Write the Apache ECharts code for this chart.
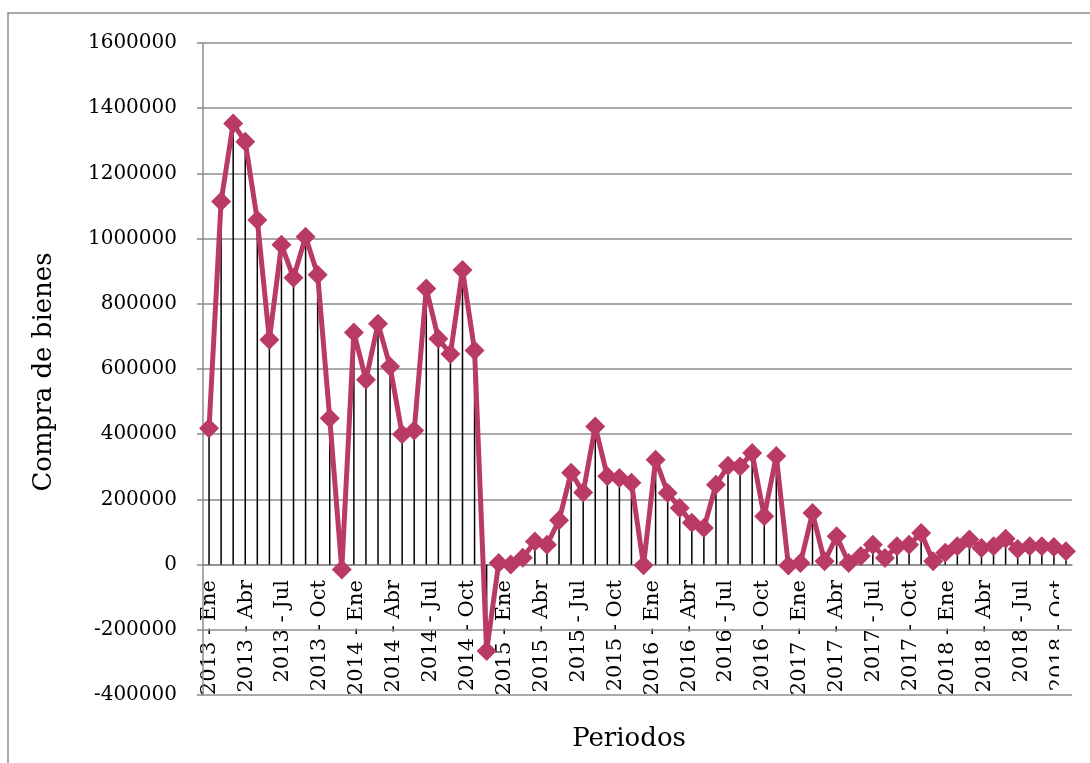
<!DOCTYPE html>
<html>
<head>
<meta charset="utf-8">
<script src="https://cdn.jsdelivr.net/npm/echarts@6/dist/echarts.min.js"></script>
<style>
  html, body { margin: 0; padding: 0; background: #fff; }
  #chart { width: 1090px; height: 763px; }
</style>
</head>
<body>
<div id="chart"></div>
<script>
const years = [2013, 2014, 2015, 2016, 2017, 2018];
const months = ['Ene', 'Feb', 'Mar', 'Abr', 'May', 'Jun', 'Jul', 'Ago', 'Sep', 'Oct', 'Nov', 'Dic'];

// Compra de bienes, one value per month
const compras2013 = [418000, 1114000, 1353000, 1297000, 1057000, 690000, 981000, 880000, 1006000, 889000, 449000, -15000];
const compras2014 = [712000, 567000, 739000, 608000, 400000, 411000, 847000, 693000, 646000, 904000, 657000, -265000];
const compras2015 = [5000, 0, 21000, 71000, 61000, 136000, 282000, 221000, 424000, 271000, 266000, 251000];
const compras2016 = [-2000, 322000, 220000, 174000, 128000, 112000, 245000, 303000, 301000, 342000, 148000, 333000];
const compras2017 = [-3000, 5000, 158000, 10000, 87000, 5000, 26000, 61000, 20000, 56000, 61000, 97000];
const compras2018 = [10000, 36000, 56000, 77000, 51000, 56000, 79000, 48000, 56000, 56000, 54000, 41000];

const yTicks = { min: -400000, max: 1600000, step: 200000 };

const periodos = [];
years.forEach(y => months.forEach(m => periodos.push(`${y} - ${m}`)));
const compras = [].concat(compras2013, compras2014, compras2015, compras2016, compras2017, compras2018);

const font = 'DejaVu Serif';
const grey = '#8c8c8c';
const lineColor = '#B93A65';

const chart = echarts.init(document.getElementById('chart'));

chart.setOption({
  animation: false,
  backgroundColor: '#fff',
  grid: [
    { left: 203, right: 18, top: 43, bottom: 68, outerBoundsMode: 'none' },
    // only carries the period labels, which sit a bit wider apart than the points
    { left: 203, width: 886, top: 43, bottom: 198, outerBoundsMode: 'none' }
  ],
  xAxis: [
    {
      type: 'category',
      gridIndex: 0,
      data: periodos,
      boundaryGap: true,
      axisLine: { onZero: true, lineStyle: { color: grey, width: 1.5 } },
      axisTick: { show: false },
      axisLabel: { show: false },
      z: 0
    },
    {
      type: 'category',
      gridIndex: 1,
      data: periodos,
      boundaryGap: true,
      axisLine: { show: false },
      axisTick: { show: false },
      axisLabel: {
        interval: 2,
        rotate: 90,
        margin: 15,
        color: '#000',
        fontFamily: font,
        fontSize: 21
      },
      z: 0
    }
  ],
  yAxis: [
    {
      type: 'value',
      gridIndex: 0,
      min: yTicks.min,
      max: yTicks.max,
      interval: yTicks.step,
      axisLine: { show: true, lineStyle: { color: grey, width: 1.5 } },
      axisTick: { show: true, length: 6, lineStyle: { color: grey, width: 1.5 } },
      splitLine: { show: true, lineStyle: { color: grey, width: 1.5 } },
      axisLabel: {
        margin: 26,
        color: '#000',
        fontFamily: font,
        fontSize: 20,
        formatter: v => String(v)
      },
      z: 1
    },
    { type: 'value', gridIndex: 1, min: 0, max: 1, show: false }
  ],
  graphic: [
    {
      type: 'rect',
      silent: true,
      shape: { x: 8, y: 13, width: 1200, height: 900 },
      style: { fill: 'transparent', stroke: grey, lineWidth: 1.5 },
      z: 10
    },
    {
      // the last period label is cut off at the right edge in the original
      type: 'rect',
      silent: true,
      shape: { x: 1059, y: 570, width: 40, height: 135 },
      style: { fill: '#fff' },
      z: 0.5
    },
    {
      type: 'text',
      x: 44,
      y: 372,
      rotation: Math.PI / 2,
      style: { text: 'Compra de bienes', font: `26px "${font}"`, fill: '#000', align: 'center', verticalAlign: 'middle' },
      z: 10
    },
    {
      type: 'text',
      x: 629,
      y: 739,
      style: { text: 'Periodos', font: `26px "${font}"`, fill: '#000', align: 'center', verticalAlign: 'middle' },
      z: 10
    }
  ],
  series: [
    {
      // drop lines from zero to each point
      type: 'bar',
      xAxisIndex: 0,
      yAxisIndex: 0,
      data: compras,
      barWidth: 1.5,
      itemStyle: { color: '#000' },
      z: 2
    },
    {
      type: 'line',
      xAxisIndex: 0,
      yAxisIndex: 0,
      data: compras,
      symbol: 'diamond',
      symbolSize: 20,
      showSymbol: true,
      showAllSymbol: true,
      lineStyle: { color: lineColor, width: 5 },
      itemStyle: { color: lineColor },
      z: 3
    }
  ]
});
</script>
</body>
</html>
